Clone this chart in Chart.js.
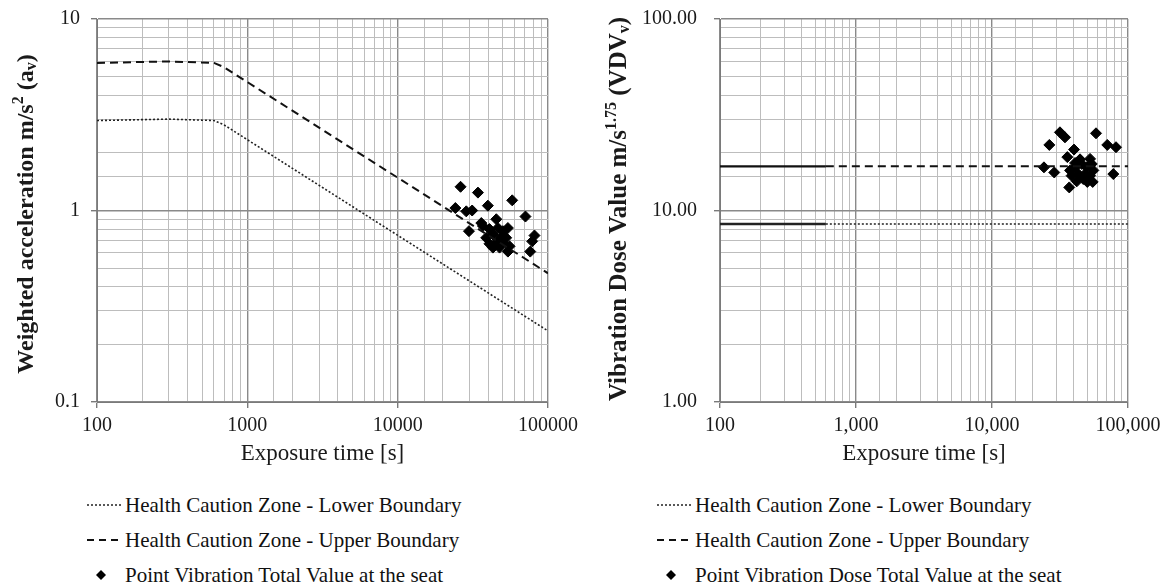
<!DOCTYPE html>
<html><head><meta charset="utf-8">
<script src="https://cdn.jsdelivr.net/npm/chart.js@4.4.1/dist/chart.umd.min.js"></script>
<style>
html,body{margin:0;padding:0;background:#fff;width:1168px;height:584px;overflow:hidden;font-family:"Liberation Serif","Times New Roman",serif;}
.wrap{position:absolute;top:0;width:584px;height:470px;}
#w1{left:0} #w2{left:584px}
.legend{position:absolute;top:488px;font-size:21px;color:#111;line-height:35px;white-space:nowrap}
.legend div{position:relative;height:35px}
.legend svg{position:absolute;left:0;top:12px}
.legend span{position:absolute;left:38px;top:0}
</style></head>
<body>
<div class="wrap" id="w1"><canvas id="c1" width="584" height="470"></canvas></div>
<div class="wrap" id="w2"><canvas id="c2" width="584" height="470"></canvas></div>
<div class="legend" id="lg1" style="left:87px"></div>
<div class="legend" id="lg2" style="left:657px"></div>
<script>
// ---------- data ----------
const accBoundaryTime = [100, 300, 600, 700, 100000];
const accLowerBoundary = [2.95, 3.0, 2.95, 2.8, 0.235];
const accUpperBoundary = [5.9, 6.0, 5.9, 5.6, 0.47];
const accPointTime = [26200,34200,57800,24200,28600,31300,39800,70800,36000,29800,45300,36900,40800,46400,50100,54100,38800,43000,48900,52700,40800,45300,50100,55500,54100,81300,78500,76200,43000,47600];
const accPointValue = [1.33,1.24,1.13,1.03,0.99,1.0,1.06,0.93,0.86,0.78,0.90,0.83,0.80,0.81,0.78,0.81,0.72,0.75,0.73,0.72,0.67,0.68,0.68,0.65,0.61,0.74,0.69,0.61,0.64,0.64];

const vdvBoundaryTime = [100, 600, 100000];
const vdvLowerBoundary = [8.5, 8.5, 8.5];
const vdvUpperBoundary = [17, 17, 17];
const vdvPointTime = [31600,34400,58200,26400,70400,81600,40100,35800,44400,24100,28700,78000,37000,42000,50200,55000,37500,40800,45700,49700,54100,38500,43100,48300,52600,55600,46900,40800,52600];
const vdvPointValue = [25.6,24.1,25.3,22.0,22.0,21.4,20.8,19.0,18.5,16.8,15.8,15.5,13.2,14.2,14.1,14.1,16.2,16.8,17.5,16.8,17.5,15.2,15.5,15.5,15.2,16.2,14.6,17.7,18.6];

const leftXTickLabels = ['100','1000','10000','100000'];
const leftYTickLabels = ['0.1','1','10'];
const rightXTickLabels = ['100','1,000','10,000','100,000'];
const rightYTickLabels = ['1.00','10.00','100.00'];

const legendLabelsLeft = ['Health Caution Zone - Lower Boundary','Health Caution Zone - Upper Boundary','Point Vibration Total Value at the seat'];
const legendLabelsRight = ['Health Caution Zone - Lower Boundary','Health Caution Zone - Upper Boundary','Point Vibration Dose Total Value at the seat'];

// ---------- helpers ----------
const zip = (xs, ys) => xs.map((x, i) => ({x, y: ys[i]}));
const isMajor = v => { const l = Math.log10(v); return Math.abs(l - Math.round(l)) < 1e-6; };
const FONT = '"Liberation Serif","Times New Roman",serif';

function labelFrom(list, minExp) {
  return v => isMajor(v) ? list[Math.round(Math.log10(v)) - minExp] : '';
}

const richTitle = {
  id: 'richTitle',
  afterDraw(chart, args, opts) {
    const ctx = chart.ctx;
    ctx.save();
    ctx.translate(opts.x, opts.y);
    ctx.rotate(-Math.PI / 2);
    ctx.fillStyle = '#1a1a1a';
    ctx.textBaseline = 'middle';
    const big = 'bold ' + opts.size + 'px ' + FONT, small = 'bold 16px ' + FONT;
    let total = 0;
    opts.parts.forEach(p => { ctx.font = p[1] ? small : big; total += ctx.measureText(p[0]).width; });
    let x = -total / 2;
    opts.parts.forEach(p => {
      ctx.font = p[1] ? small : big;
      const dy = p[1] === 'sup' ? -8 : (p[1] === 'sub' ? 5 : 0);
      ctx.fillText(p[0], x, dy);
      x += ctx.measureText(p[0]).width;
    });
    ctx.restore();
  }
};

function axisCommon(min, max, labels, minExp, isX, fixed) {
  return {
    type: 'logarithmic', min, max,
    border: {color: '#7a7a7a', width: 1},
    grid: {
      color: c => c.tick && isMajor(c.tick.value) ? '#8a8a8a' : '#bdbdbd',
      lineWidth: c => c.tick && isMajor(c.tick.value) ? 1.4 : 1,
      tickColor: c => c.tick && isMajor(c.tick.value) ? '#7a7a7a' : 'rgba(0,0,0,0)',
      tickLength: 6, drawTicks: true
    },
    ticks: {
      autoSkip: false, maxRotation: 0, minRotation: 0,
      color: '#1a1a1a', font: {family: FONT, size: 20},
      padding: isX ? 6 : fixed.tickPad,
      callback: labelFrom(labels, minExp)
    },
    afterFit: s => {
      s.paddingLeft = 0; s.paddingRight = 0; s.paddingTop = 0; s.paddingBottom = 0;
      if (isX) s.height = 68; else s.width = fixed.width;
    }
  };
}

function makeChart(id, cfg) {
  return new Chart(document.getElementById(id), {
    type: 'scatter',
    data: {datasets: [
      {label: cfg.legend[0], data: zip(cfg.bt, cfg.lower), showLine: true, pointRadius: 0, borderColor: '#222', borderWidth: 1.6, borderDash: [2, 2],
       segment: cfg.solidUntil ? {borderDash: c => c.p0.parsed.x < cfg.solidUntil ? [] : [2, 2], borderWidth: c => c.p0.parsed.x < cfg.solidUntil ? 2.4 : 1.6} : {}},
      {label: cfg.legend[1], data: zip(cfg.bt, cfg.upper), showLine: true, pointRadius: 0, borderColor: '#111', borderWidth: 2, borderDash: [8, 5],
       segment: cfg.solidUntil ? {borderDash: c => c.p0.parsed.x < cfg.solidUntil ? [] : [8, 5], borderWidth: c => c.p0.parsed.x < cfg.solidUntil ? 2.4 : 2} : {}},
      {label: cfg.legend[2], data: zip(cfg.pt, cfg.pv), showLine: false, pointStyle: 'rectRot', pointRadius: 5.5, pointHoverRadius: 5.5,
       backgroundColor: '#000', borderColor: '#000', borderWidth: 1}
    ]},
    options: {
      responsive: false, animation: false,
      layout: {padding: {left: 0, right: cfg.padRight, top: 19, bottom: 0}},
      plugins: {legend: {display: false}, tooltip: {enabled: false}, richTitle: cfg.title},
      scales: {
        x: Object.assign(axisCommon(100, 100000, cfg.xLabels, 2, true, {}), {
          title: {display: true, text: 'Exposure time [s]', color: '#1a1a1a', font: {family: FONT, size: 23}, padding: {top: 2, bottom: 2}}
        }),
        y: axisCommon(cfg.ymin, cfg.ymax, cfg.yLabels, cfg.yMinExp, false, {width: cfg.yWidth, tickPad: cfg.tickPad})
      }
    },
    plugins: [richTitle]
  });
}

makeChart('c1', {
  bt: accBoundaryTime, lower: accLowerBoundary, upper: accUpperBoundary, pt: accPointTime, pv: accPointValue,
  legend: legendLabelsLeft, xLabels: leftXTickLabels, yLabels: leftYTickLabels, ymin: 0.1, ymax: 10, yMinExp: -1,
  yWidth: 97, tickPad: 11, padRight: 36,
  title: {x: 27, y: 214, size: 24, parts: [['Weighted acceleration m/s', ''], ['2', 'sup'], [' (a', ''], ['v', 'sub'], [')', '']]}
});
makeChart('c2', {
  bt: vdvBoundaryTime, lower: vdvLowerBoundary, upper: vdvUpperBoundary, pt: vdvPointTime, pv: vdvPointValue,
  legend: legendLabelsRight, xLabels: rightXTickLabels, yLabels: rightYTickLabels, ymin: 1, ymax: 100, yMinExp: 0,
  yWidth: 136, tickPad: 17, padRight: 40, solidUntil: 599,
  title: {x: 36, y: 209, size: 25, parts: [['Vibration Dose Value m/s', ''], ['1.75', 'sup'], [' (VDV', ''], ['v', 'sub'], [')', '']]}
});

// ---------- legends ----------
function sample(kind) {
  if (kind === 0) return '<svg width="36" height="10"><line x1="0" y1="5" x2="36" y2="5" stroke="#222" stroke-width="1.6" stroke-dasharray="2,2"/></svg>';
  if (kind === 1) return '<svg width="36" height="10"><line x1="0" y1="5" x2="36" y2="5" stroke="#111" stroke-width="2" stroke-dasharray="7,5"/></svg>';
  return '<svg width="36" height="10"><polygon points="14,0 19,5 14,10 9,5" fill="#000"/></svg>';
}
function buildLegend(id, labels) {
  document.getElementById(id).innerHTML = labels.map((t, i) => '<div>' + sample(i) + '<span>' + t + '</span></div>').join('');
}
buildLegend('lg1', legendLabelsLeft);
buildLegend('lg2', legendLabelsRight);
</script>
</body></html>
